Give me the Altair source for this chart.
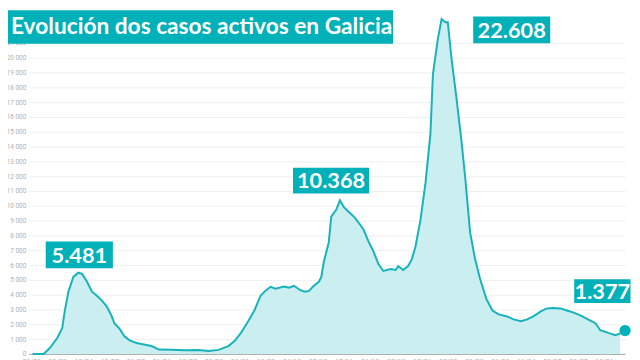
import altair as alt
import pandas as pd

# ---- data ----
start = pd.Timestamp("2020-03-01")
day_offsets = [8, 17, 22, 28, 32, 34, 37, 41, 45, 48, 52, 56, 60, 64, 68, 72, 74, 78, 82, 86,
               92, 100, 104, 110, 120, 131, 142, 150, 158, 166, 171, 176, 182, 187, 192, 196,
               200, 204, 211, 215, 219, 224, 228, 231, 235, 239, 241, 243, 247, 249, 253, 256,
               259, 263, 268, 271, 275, 279, 283, 287, 291, 297, 301, 303, 307, 311, 314, 317,
               321, 325, 329, 331, 335, 338, 341, 343, 346, 350, 354, 357, 361, 365, 369, 374,
               379, 384, 391, 396, 402, 407, 412, 418, 423, 428, 434, 439, 444, 450, 456, 462,
               466, 473, 478, 482]
active_cases = [0, 0, 400, 1070, 1730, 2870, 4200, 5200, 5481, 5400, 4870, 4200, 3930, 3600,
                3200, 2530, 2070, 1730, 1200, 930, 730, 600, 530, 290, 280, 250, 270, 200, 270,
                530, 870, 1400, 2200, 2930, 3930, 4270, 4530, 4400, 4550, 4470, 4600, 4300,
                4200, 4250, 4600, 4870, 5200, 6200, 7530, 9270, 9730, 10368, 9930, 9600, 9200,
                8870, 8400, 7600, 6930, 6070, 5600, 5730, 5670, 5930, 5670, 5930, 6400, 7270,
                9070, 11530, 14870, 18870, 21270, 22608, 22400, 22400, 19930, 17270, 14400,
                11930, 8200, 6400, 5070, 3730, 2930, 2670, 2530, 2330, 2200, 2330, 2530, 2870,
                3070, 3100, 3070, 2930, 2800, 2600, 2330, 2070, 1600, 1400, 1270, 1377]

ann_days = [45, 256, 338, 482]
ann_values = [5481, 10368, 22608, 1377]
ann_labels = ["5.481", "10.368", "22.608", "1.377"]

y_ticks = list(range(0, 22000, 1000))
title_text = "Evolución dos casos activos en Galicia"

# ---- styling ----
TEAL = "#00b1b9"
LINE = "#16b3bb"
FILL = "#cbeef0"
FONT = "Lato"

df = pd.DataFrame({"date": start + pd.to_timedelta(day_offsets, unit="D"),
                   "cases": active_cases})
last = df.tail(1)

x_scale = alt.Scale(domain=[alt.DateTime(year=2020, month=3, date=6),
                            alt.DateTime(year=2021, month=6, date=30)], nice=False)
y_scale = alt.Scale(domain=[0, 23000], nice=False)

x_axis = alt.Axis(format="%d/%m", labelFontSize=7, labelColor="#b5b5b5",
                  ticks=False, grid=False, domainColor="#a8a8a8",
                  labelPadding=4, labelFont="Roboto",
                  tickCount={"interval": "week", "step": 3})
y_axis = alt.Axis(values=y_ticks, tickCount=23, labelFontSize=6.5, labelColor="#b0b0b0",
                  labelFont="Roboto", ticks=False, domain=False,
                  gridColor="#efefef", labelPadding=3, labelOverlap=False,
                  labelExpr="replace(format(datum.value, ','), ',', ' ')")


def xe():
    return alt.X("date:T", scale=x_scale, title=None, axis=x_axis)


def ye():
    return alt.Y("cases:Q", scale=y_scale, title=None, axis=y_axis)


area = alt.Chart(df).mark_area(color=FILL, opacity=1).encode(x=xe(), y=ye())
line = alt.Chart(df).mark_line(color=LINE, strokeWidth=2).encode(x=xe(), y=ye())
dot = alt.Chart(last).mark_circle(color=TEAL, size=130, opacity=1, xOffset=5, yOffset=-3).encode(
    x=xe(), y=ye())

# annotation boxes: (dx, dy, w, h) relative to the data point
box_style = [(1, -18, 68, 27), (-9, -20, 77, 26), (71, 11, 78, 27), (-18, -43, 57, 24)]
layers = [area, line, dot]
for d, v, lab, (dx, dy, w, h) in zip(ann_days, ann_values, ann_labels, box_style):
    adf = pd.DataFrame({"date": [start + pd.Timedelta(days=d)], "cases": [v], "label": [lab]})
    layers.append(alt.Chart(adf).mark_rect(color=TEAL, width=w, height=h,
                                           xOffset=dx, yOffset=dy).encode(x=xe(), y=ye()))
    layers.append(alt.Chart(adf).mark_text(color="white", font=FONT, fontWeight="bold",
                                           fontSize=22, align="center", baseline="middle",
                                           dx=dx, dy=dy + 1).encode(x=xe(), y=ye(),
                                                                   text="label:N"))

title_box = alt.Chart(pd.DataFrame({"t": [title_text]})).mark_rect(color=TEAL).encode(
    x=alt.value(-21), x2=alt.value(369), y=alt.value(-3), y2=alt.value(31))
title = alt.Chart(pd.DataFrame({"t": [title_text]})).mark_text(
    color="white", font=FONT, fontWeight="bold", fontSize=23, align="left",
    baseline="alphabetic").encode(x=alt.value(-18), y=alt.value(21), text="t:N")
layers += [title_box, title]

chart = alt.layer(*layers).properties(
    width=604, height=345,
    autosize=alt.AutoSizeParams(type="none"),
    padding={"left": 21, "top": 3, "right": 7, "bottom": 16},
).configure_view(stroke=None)

chart.save("out.html", embed_options={"renderer": "svg", "actions": False})
